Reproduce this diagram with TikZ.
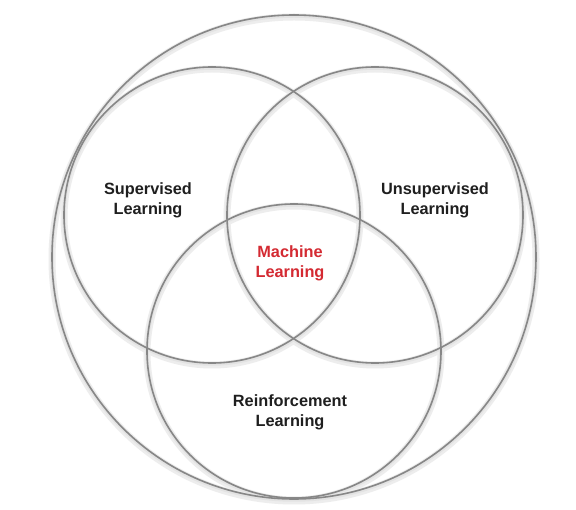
\documentclass[tikz,border=0pt]{standalone}
\usepackage{fontspec}
\setmainfont{Liberation Sans}
\begin{document}
\begin{tikzpicture}[x=1pt,y=-1pt,
  ring/.style={draw=black!47, line width=1.6pt},
  glow/.style={draw=black!7, line width=7pt},
  glowb/.style={draw=black!11, line width=3.5pt},
  lbl/.style={font=\fontsize{16.3}{20}\selectfont\bfseries, align=center, text=black!88, inner sep=0pt},
  mlbl/.style={lbl, text=mlred}]
\definecolor{mlred}{HTML}{D42A32}
\useasboundingbox (0,0) rectangle (576,510);
\fill[white] (0,0) rectangle (576,510);
% soft shadows
\foreach \cx/\cy/\r in {294/259/242, 212/217/148, 375/217/148, 294/353/147}{
  \draw[glow] (\cx,\cy) circle[radius=\r];
}
\foreach \cx/\cy/\r in {294/258/242, 212/216/148, 375/216/148, 294/352/147}{
  \draw[glowb] (\cx,\cy) circle[radius=\r];
}
% circles
\node[ring, circle, minimum size=484pt, inner sep=0pt] (outer) at (294,257) {};
\node[ring, circle, minimum size=296pt, inner sep=0pt] (sup) at (212,215) {};
\node[ring, circle, minimum size=296pt, inner sep=0pt] (uns) at (375,215) {};
\node[ring, circle, minimum size=294pt, inner sep=0pt] (rei) at (294,351) {};
% labels
\node[lbl] (supl) at (148,200) {Supervised\\Learning};
\node[lbl] (unsl) at (435,200) {Unsupervised\\Learning};
\node[mlbl] (mll) at (290,263) {Machine\\Learning};
\node[lbl] (reil) at (290,412) {Reinforcement\\Learning};
\end{tikzpicture}
\end{document}
